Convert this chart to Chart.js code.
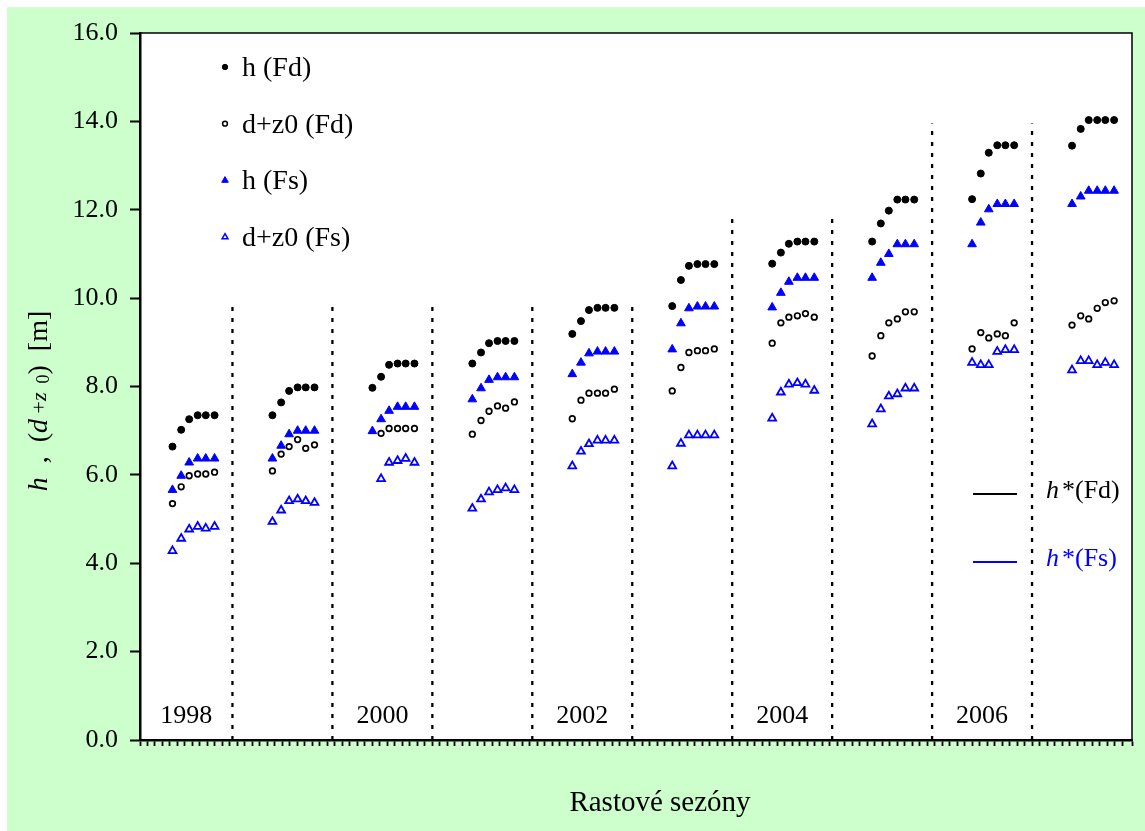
<!DOCTYPE html>
<html lang="cs">
<head>
<meta charset="UTF-8">
<title>Rastové sezóny</title>
<script src="https://cdn.jsdelivr.net/npm/chart.js"></script>
<style>
  html, body { margin: 0; padding: 0; background: #fff; }
  #wrap { width: 1145px; height: 831px; }
</style>
</head>
<body>
<div id="wrap"><canvas id="myChart" width="1145" height="831"></canvas></div>
<script>
// sezony 1998-2007, v kazde sezone 6 mereni
const seasons = ['1998', '1999', '2000', '2001', '2002', '2003', '2004', '2005', '2006', '2007'];
const shownSeasons = ['1998', '2000', '2002', '2004', '2006'];
// poloha mereni uvnitr sezony (sirka sezony = 100)
const sampleOffsets = [40, 48.7, 56.7, 65.2, 73.3, 82.1];

// h (Fd)
const hFd = [
  [6.64, 7.02, 7.26, 7.35, 7.35, 7.35],
  [7.35, 7.64, 7.90, 7.98, 7.98, 7.98],
  [7.97, 8.22, 8.49, 8.52, 8.52, 8.52],
  [8.52, 8.77, 8.98, 9.03, 9.03, 9.03],
  [9.19, 9.48, 9.73, 9.78, 9.78, 9.78],
  [9.82, 10.41, 10.73, 10.77, 10.77, 10.77],
  [10.78, 11.03, 11.23, 11.28, 11.28, 11.28],
  [11.28, 11.69, 11.98, 12.23, 12.23, 12.23],
  [12.24, 12.82, 13.29, 13.46, 13.46, 13.46],
  [13.45, 13.83, 14.03, 14.03, 14.03, 14.03]
];
// d+z0 (Fd)
const dzFd = [
  [5.35, 5.73, 5.98, 6.02, 6.02, 6.06],
  [6.09, 6.47, 6.64, 6.80, 6.60, 6.68],
  [null, 6.94, 7.05, 7.05, 7.05, 7.05],
  [6.92, 7.23, 7.44, 7.56, 7.51, 7.65],
  [7.27, 7.69, 7.85, 7.85, 7.85, 7.94],
  [7.90, 8.43, 8.77, 8.81, 8.81, 8.85],
  [8.98, 9.44, 9.57, 9.60, 9.65, 9.57],
  [8.69, 9.15, 9.44, 9.53, 9.69, 9.69],
  [8.85, 9.22, 9.10, 9.19, 9.15, 9.44],
  [9.39, 9.60, 9.53, 9.77, 9.90, 9.94]
];
// h (Fs)
const hFs = [
  [5.66, 5.98, 6.28, 6.37, 6.37, 6.37],
  [6.37, 6.66, 6.92, 7.00, 7.00, 7.00],
  [6.99, 7.26, 7.45, 7.54, 7.54, 7.54],
  [7.71, 7.96, 8.15, 8.21, 8.21, 8.21],
  [8.28, 8.54, 8.75, 8.79, 8.79, 8.79],
  [8.84, 9.43, 9.77, 9.81, 9.81, 9.81],
  [9.79, 10.12, 10.37, 10.46, 10.46, 10.46],
  [10.46, 10.80, 11.00, 11.22, 11.22, 11.22],
  [11.22, 11.71, 12.01, 12.13, 12.13, 12.13],
  [12.13, 12.30, 12.43, 12.43, 12.43, 12.43]
];
// d+z0 (Fs)
const dzFs = [
  [4.28, 4.56, 4.77, 4.83, 4.79, 4.83],
  [4.94, 5.20, 5.41, 5.45, 5.41, 5.37],
  [null, 5.91, 6.28, 6.32, 6.37, 6.28],
  [5.24, 5.45, 5.61, 5.66, 5.70, 5.66],
  [6.20, 6.53, 6.70, 6.78, 6.78, 6.78],
  [6.20, 6.71, 6.90, 6.90, 6.90, 6.90],
  [7.28, 7.87, 8.05, 8.08, 8.05, 7.91],
  [7.15, 7.49, 7.78, 7.83, 7.96, 7.96],
  [8.54, 8.49, 8.49, 8.79, 8.83, 8.83],
  [8.37, 8.58, 8.58, 8.49, 8.54, 8.49]
];
// horni konec teckovanych car mezi sezonami
const separatorTops = [9.95, 9.95, 9.95, 9.95, 9.95, 11.95, 11.95, 13.95, 13.95];
const yTicks = [0, 2, 4, 6, 8, 10, 12, 14, 16];

const FONT = '"Liberation Serif", "Times New Roman", serif';
const BLUE = '#0000ff';
const GREEN = '#ccffcc';
const X_MIN = 7.5, X_MAX = 1000;

function toPoints(rows) {
  const pts = [];
  rows.forEach((row, i) => row.forEach((v, j) => {
    if (v !== null) pts.push({ x: i * 100 + sampleOffsets[j], y: v });
  }));
  return pts;
}

const separatorSets = separatorTops.map((top, k) => ({
  data: [{ x: (k + 1) * 100, y: 0 }, { x: (k + 1) * 100, y: top }],
  showLine: true,
  borderColor: '#000',
  borderWidth: 2.3,
  borderDash: [4, 7],
  pointRadius: 0,
  order: 10
}));

// text s ruznymi rezy pisma, vycentrovany na (0,0)
function drawRich(ctx, parts) {
  let w = 0;
  parts.forEach(p => { ctx.font = p.font; p.w = ctx.measureText(p.t).width; w += p.w; });
  let x = -w / 2;
  parts.forEach(p => {
    ctx.font = p.font;
    ctx.fillText(p.t, x, p.dy || 0);
    x += p.w;
  });
}

function marker(ctx, style, x, y, r, fill, stroke, lw) {
  ctx.beginPath();
  if (style === 'circle') {
    ctx.arc(x, y, r, 0, Math.PI * 2);
  } else {
    for (let i = 0; i < 3; i++) {
      const a = i * 2 * Math.PI / 3;
      const px = x + Math.sin(a) * r, py = y - Math.cos(a) * r;
      if (i === 0) ctx.moveTo(px, py); else ctx.lineTo(px, py);
    }
    ctx.closePath();
  }
  ctx.fillStyle = fill; ctx.fill();
  ctx.lineWidth = lw; ctx.strokeStyle = stroke; ctx.stroke();
}

const decorations = {
  id: 'decorations',
  beforeDraw(chart) {
    const { ctx, chartArea: a } = chart;
    ctx.save();
    ctx.fillStyle = GREEN;
    ctx.fillRect(7, 7, chart.width - 7, chart.height - 7);
    ctx.fillStyle = '#fff';
    ctx.fillRect(a.left, a.top, a.right - a.left, a.bottom - a.top);
    ctx.restore();
  },
  afterDraw(chart) {
    const { ctx, chartArea: a } = chart;
    const xs = chart.scales.x;
    ctx.save();
    // horni a prava hrana
    ctx.strokeStyle = '#000';
    ctx.lineWidth = 1.5;
    ctx.beginPath();
    ctx.moveTo(a.left, a.top);
    ctx.lineTo(a.right, a.top);
    ctx.lineTo(a.right, a.bottom);
    ctx.stroke();

    ctx.fillStyle = '#000';
    ctx.textBaseline = 'alphabetic';
    ctx.textAlign = 'center';
    ctx.font = '26px ' + FONT;
    // roky
    shownSeasons.forEach(s => {
      const i = seasons.indexOf(s);
      const from = Math.max(i * 100, X_MIN), to = (i + 1) * 100;
      ctx.fillText(s, xs.getPixelForValue((from + to) / 2), a.bottom - 17);
    });

    // legenda vlevo nahore
    const rows = [
      { t: 'h (Fd)', s: 'circle', r: 2.7, f: '#000', c: '#000', lw: 1 },
      { t: 'd+z0 (Fd)', s: 'circle', r: 2.4, f: '#fff', c: '#000', lw: 1.5 },
      { t: 'h (Fs)', s: 'triangle', r: 3.8, f: BLUE, c: BLUE, lw: 1 },
      { t: 'd+z0 (Fs)', s: 'triangle', r: 3.4, f: '#fff', c: BLUE, lw: 1.5 }
    ];
    ctx.textAlign = 'left';
    ctx.textBaseline = 'middle';
    rows.forEach((row, k) => {
      const y = 67 + k * 56.7;
      marker(ctx, row.s, 225, y, row.r, row.f, row.c, row.lw);
      ctx.fillStyle = '#000';
      ctx.font = '28px ' + FONT;
      ctx.fillText(row.t, 242, y + 1.5);
    });

    // legenda h* vpravo
    [['#000', 494, 'Fd'], [BLUE, 562, 'Fs']].forEach(([col, y, f]) => {
      ctx.strokeStyle = col;
      ctx.lineWidth = 2;
      ctx.beginPath();
      ctx.moveTo(973, y); ctx.lineTo(1017, y);
      ctx.stroke();
      ctx.fillStyle = col;
      ctx.font = 'italic 26px ' + FONT;
      ctx.fillText('h', 1046, y - 3);
      const hw = ctx.measureText('h').width;
      ctx.font = '26px ' + FONT;
      ctx.fillText('*(' + f + ')', 1046 + hw + 3, y - 3);
    });

    // popis osy x
    ctx.fillStyle = '#000';
    ctx.textAlign = 'left';
    ctx.textBaseline = 'middle';
    ctx.save();
    ctx.translate(660, 803);
    drawRich(ctx, [{ t: 'Rastové sezóny', font: '29px ' + FONT }]);
    ctx.restore();

    // popis osy y
    ctx.save();
    ctx.translate(40, 401);
    ctx.rotate(-Math.PI / 2);
    drawRich(ctx, [
      { t: 'h', font: 'italic 28px ' + FONT },
      { t: '  ,  (', font: '28px ' + FONT },
      { t: 'd', font: 'italic 28px ' + FONT },
      { t: ' +', font: '22px ' + FONT },
      { t: 'z', font: 'italic 22px ' + FONT },
      { t: '  0', font: '18px ' + FONT, dy: 4 },
      { t: ')  [m]', font: '28px ' + FONT }
    ]);
    ctx.restore();
    ctx.restore();
  }
};

const ctx = document.getElementById('myChart').getContext('2d');
const myChart = new Chart(ctx, {
  type: 'scatter',
  data: {
    datasets: [
      ...separatorSets,
      {
        label: 'd+z0 (Fs)', data: toPoints(dzFs), pointStyle: 'triangle',
        pointRadius: 4.5, backgroundColor: '#fff', borderColor: BLUE, borderWidth: 1.8, order: 3
      },
      {
        label: 'd+z0 (Fd)', data: toPoints(dzFd), pointStyle: 'circle',
        pointRadius: 2.8, backgroundColor: '#fff', borderColor: '#000', borderWidth: 1.7, order: 2
      },
      {
        label: 'h (Fs)', data: toPoints(hFs), pointStyle: 'triangle',
        pointRadius: 5, backgroundColor: BLUE, borderColor: BLUE, borderWidth: 1, order: 1
      },
      {
        label: 'h (Fd)', data: toPoints(hFd), pointStyle: 'circle',
        pointRadius: 3.5, backgroundColor: '#000', borderColor: '#000', borderWidth: 1, order: 0
      }
    ]
  },
  options: {
    responsive: false,
    animation: false,
    devicePixelRatio: 1,
    layout: { padding: { top: 33, right: 13, left: 0, bottom: 0 } },
    plugins: { legend: { display: false }, tooltip: { enabled: false } },
    scales: {
      x: {
        type: 'linear', min: X_MIN, max: X_MAX,
        ticks: { display: false, stepSize: 7.5 },
        grid: { drawOnChartArea: false, color: '#000', tickLength: 6, tickWidth: 1.8 },
        border: { color: '#000', width: 2.5 },
        afterFit: s => { s.height = 91; }
      },
      y: {
        min: 0, max: 16,
        afterBuildTicks: s => { s.ticks = yTicks.map(v => ({ value: v })); },
        ticks: {
          padding: 12, color: '#000',
          font: { family: FONT, size: 26 },
          callback: v => v.toFixed(1)
        },
        grid: { drawOnChartArea: false, color: '#000', tickLength: 10, tickWidth: 2 },
        border: { color: '#000', width: 2.5 },
        afterFit: s => { s.width = 140; }
      }
    }
  },
  plugins: [decorations]
});
</script>
</body>
</html>
